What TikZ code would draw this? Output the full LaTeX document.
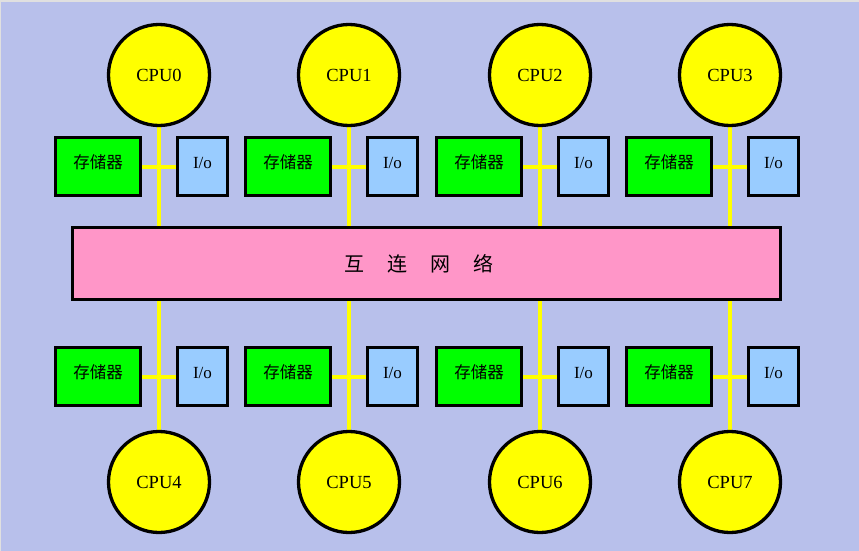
\documentclass[tikz,border=0pt]{standalone}
\usepackage{fontspec}
\setmainfont{Liberation Serif}
\newfontfamily\cjk{Noto Sans CJK SC}
\usetikzlibrary{backgrounds}
\definecolor{bgblue}{RGB}{184,192,235}
\definecolor{netpink}{RGB}{255,150,200}
\definecolor{memgreen}{RGB}{0,255,0}
\definecolor{ioblue}{RGB}{153,204,255}
\definecolor{busyellow}{RGB}{255,255,0}
\tikzset{
  cpu/.style={circle, draw=black, line width=3.3pt, fill=busyellow, minimum size=101pt, inner sep=0pt, font=\fontsize{18.5}{20}\selectfont},
  mem/.style={rectangle, draw=black, line width=3.3pt, fill=memgreen, minimum width=85pt, minimum height=58pt, inner sep=0pt, font=\cjk\fontsize{16.5}{18}\selectfont},
  iobox/.style={rectangle, draw=black, line width=3.3pt, fill=ioblue, minimum width=50pt, minimum height=58pt, inner sep=0pt, font=\fontsize{17}{19}\selectfont},
  net/.style={rectangle, draw=black, line width=3.3pt, fill=netpink, minimum width=708pt, minimum height=72pt, inner sep=0pt, font=\cjk\fontsize{20}{24}\selectfont},
  bus/.style={draw=busyellow, line width=4pt}
}
\begin{document}
\begin{tikzpicture}[x=1pt,y=-1pt]
\begin{scope}[on background layer]
\fill[black!12] (0,0) rectangle (859,551);
\fill[bgblue] (1,2) rectangle (859,551);
\end{scope}
\useasboundingbox (0,0) rectangle (859,551);
\node[net] (net) at (426.5,263.5) {\hspace*{-15pt}互\hspace{23pt}连\hspace{23pt}网\hspace{23pt}络};
\foreach \i/\x in {0/159,1/349,2/540,3/730}{
  \node[cpu] (c\i) at (\x,75) {CPU\i};
  \node[mem] (m\i) at (\x-61,166.5) {\raisebox{9pt}{存储器}};
  \node[iobox] (io\i) at (\x+43.5,166.5) {\raisebox{7pt}{I/o}};
}
\foreach \i/\x in {4/159,5/349,6/540,7/730}{
  \node[cpu] (c\i) at (\x,482) {CPU\i};
  \node[mem] (m\i) at (\x-61,376.5) {\raisebox{9pt}{存储器}};
  \node[iobox] (io\i) at (\x+43.5,376.5) {\raisebox{7pt}{I/o}};
}
\begin{scope}[on background layer]
\foreach \i in {0,...,3}{
  \draw[bus] (c\i.south) -- (c\i.south |- net.north);
  \draw[bus] (m\i.east) -- (io\i.west);
}
\foreach \i in {4,...,7}{
  \draw[bus] (c\i.north) -- (c\i.north |- net.south);
  \draw[bus] (m\i.east) -- (io\i.west);
}
\end{scope}
\end{tikzpicture}
\end{document}
